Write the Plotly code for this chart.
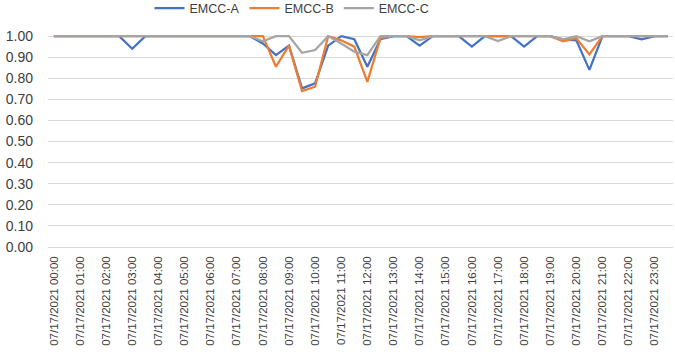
import plotly.graph_objects as go

# half-hourly categories 00:00 .. 23:30
times = [f"07/17/2021 {h:02d}:{m:02d}" for h in range(24) for m in (0, 30)]
hour_labels = [f"07/17/2021 {h:02d}:00" for h in range(24)]

emcc_a = [1, 1, 1, 1, 1, 1, 0.94, 1, 1, 1, 1, 1, 1, 1, 1, 1,
          0.965, 0.91, 0.955, 0.752, 0.776, 0.955, 1.0, 0.985, 0.855, 0.985, 1, 1,
          0.955, 1, 1, 1, 0.95, 1, 1, 1, 0.95, 1, 1, 0.985, 0.98, 0.84,
          1, 1, 1, 0.985, 1, 1]
emcc_b = [1, 1, 1, 1, 1, 1, 1, 1, 1, 1, 1, 1, 1, 1, 1, 1,
          1.0, 0.855, 0.955, 0.739, 0.76, 1.0, 0.98, 0.95, 0.783, 0.99, 1, 1,
          0.995, 1, 1, 1, 1, 1, 1, 1, 1, 1, 1, 0.975, 0.99, 0.913,
          1, 1, 1, 1, 1, 1]
emcc_c = [1, 1, 1, 1, 1, 1, 1, 1, 1, 1, 1, 1, 1, 1, 1, 1,
          0.975, 1, 1, 0.921, 0.934, 1.0, 0.965, 0.926, 0.91, 1.0, 1, 1,
          0.98, 1, 1, 1, 1, 1, 0.977, 1, 1, 1, 1, 0.985, 1.0, 0.975,
          1, 1, 1, 1, 1, 1]

series = [("EMCC-A", emcc_a, "#4472C4"),
          ("EMCC-B", emcc_b, "#ED7D31"),
          ("EMCC-C", emcc_c, "#A5A5A5")]

fig = go.Figure()
for name, vals, color in series:
    fig.add_trace(go.Scatter(x=times, y=vals, name=name, mode="lines",
                             line=dict(color=color, width=2.25)))

fig.update_layout(
    width=675, height=357,
    margin=dict(l=48, r=2, t=34, b=110, autoexpand=False),
    paper_bgcolor="white", plot_bgcolor="white",
    font=dict(family="Liberation Sans, Arial, sans-serif", color="#404040"),
    legend=dict(orientation="h", x=292/675, xanchor="center", xref="container",
                y=1.19, yanchor="top", yref="paper",
                font=dict(size=12.5, color="#404040"), itemwidth=30,
                bgcolor="rgba(0,0,0,0)"),
    xaxis=dict(type="category", categoryorder="array", categoryarray=times,
               tickmode="array", tickvals=hour_labels, ticktext=hour_labels,
               tickangle=-90, tickfont=dict(size=11.5, color="#404040"),
               range=[-0.45, 47.4], showgrid=False, zeroline=False,
               showline=False, ticks="", ticklabelstandoff=6),
    yaxis=dict(range=[0, 1.01], tickmode="array",
               tickvals=[i / 10 for i in range(11)],
               ticktext=[f"{i / 10:.2f}" for i in range(11)],
               tickfont=dict(size=14, color="#404040"),
               showgrid=True, gridcolor="#D9D9D9", gridwidth=1,
               zeroline=True, zerolinecolor="#D9D9D9", zerolinewidth=1,
               showline=False, ticks="", ticklabelstandoff=14),
)

fig.write_html("out.html", config={"displayModeBar": False},
               post_script="document.body.style.margin='0';document.body.style.overflow='hidden';")
